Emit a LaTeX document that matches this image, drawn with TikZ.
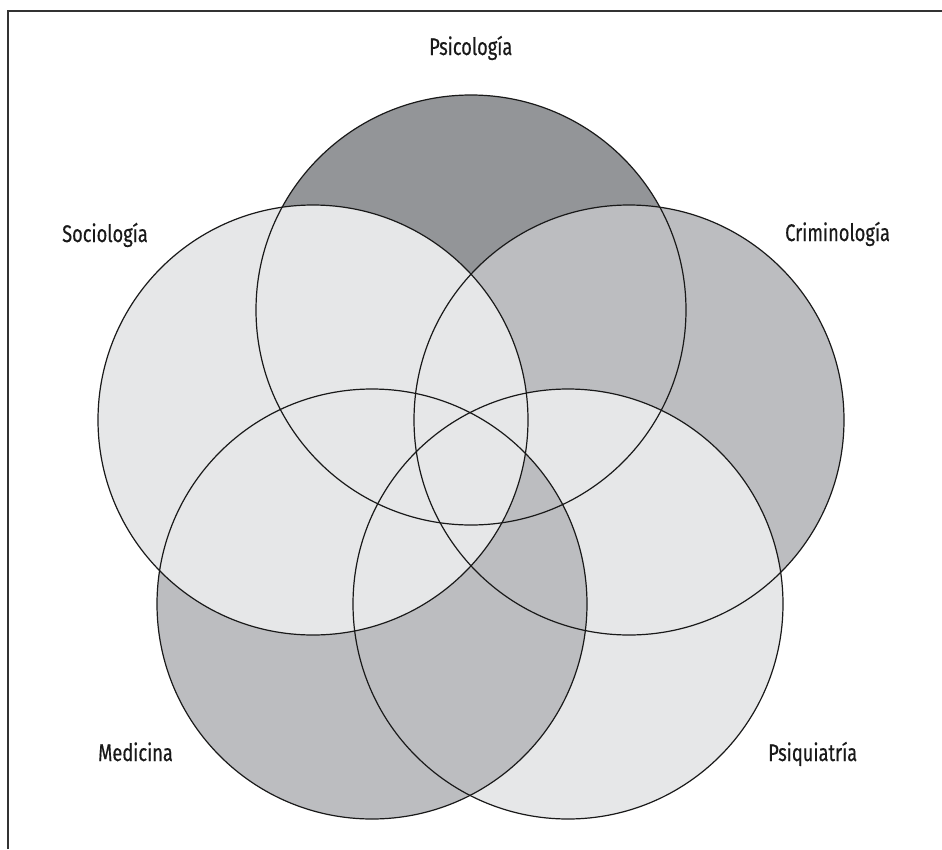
\documentclass[tikz,border=0pt]{standalone}
\usepackage{fontspec}
\setmainfont{Fira Sans}[FakeStretch=0.76,FakeBold=0.4]
\begin{document}
\begin{tikzpicture}[x=1pt,y=-1pt,
  circ/.style={draw=black!90, line width=1.2pt},
  lab/.style={font=\fontsize{24}{26}\selectfont, text=black!90, inner sep=0pt, anchor=base west},
  frame/.style={draw=black!80, line width=2pt}]
\definecolor{cdark}{HTML}{939598}
\definecolor{cmed}{HTML}{BCBDC0}
\definecolor{clight}{HTML}{E6E7E8}
\useasboundingbox (0,0) rectangle (942,849);
\fill[white] (0,0) rectangle (942,849);
\coordinate (cPsi) at (471,310);
\coordinate (cSoc) at (313,420);
\coordinate (cCri) at (629,420);
\coordinate (cMed) at (372,604);
\coordinate (cPsq) at (568,604);
% fills in stacking order
\fill[cdark] (cPsi) circle[radius=215pt];
\fill[cmed] (cCri) circle[radius=215pt];
\fill[clight] (cPsq) circle[radius=215pt];
\fill[cmed] (cMed) circle[radius=215pt];
\fill[clight] (cSoc) circle[radius=215pt];
% outlines
\foreach \c in {cPsi,cSoc,cCri,cMed,cPsq}
  \draw[circ] (\c) circle[radius=215pt];
% frame
\coordinate (fb) at (7.5,849);
\coordinate (fc) at (7.5,10.5);
\coordinate (fr) at (942,10.5);
\draw[frame] (fb) -- (fc) -- (fr);
% labels
\node[lab] (lPsi) at (429,55) {Psicología};
\node[lab] (lSoc) at (62,242) {Sociología};
\node[lab] (lCri) at (785,241) {Criminología};
\node[lab] (lMed) at (98,761) {Medicina};
\node[lab] (lPsq) at (768,761) {Psiquiatría};
\end{tikzpicture}
\end{document}
